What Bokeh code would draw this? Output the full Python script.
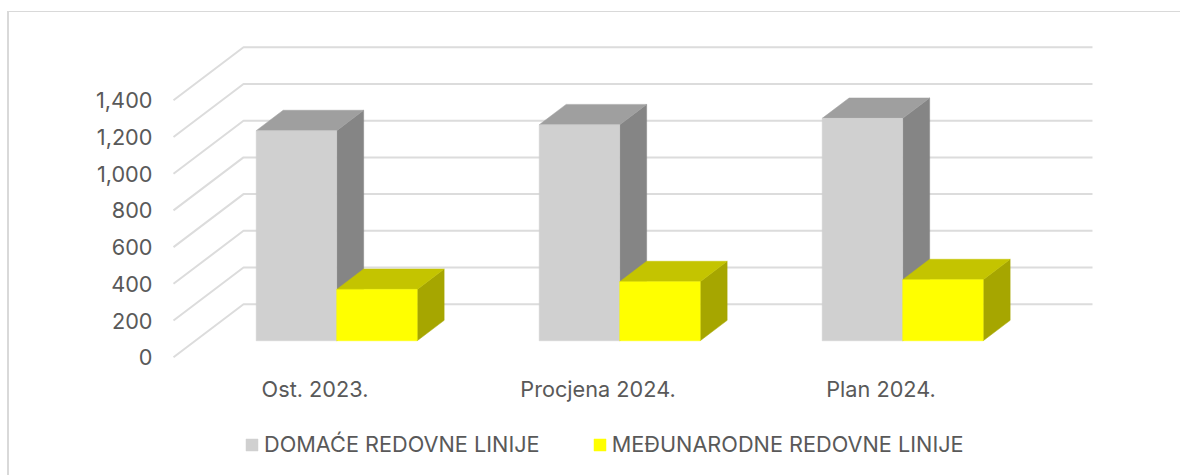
from bokeh.embed import file_html
from bokeh.resources import INLINE
from bokeh.plotting import figure
from bokeh.models import Range1d, FixedTicker, Legend, LegendItem, NumeralTickFormatter, LinearAxis

# data
categories = ["Ost. 2023.", "Procjena 2024.", "Plan 2024."]
domace = [1145, 1177, 1212]
medunarodne = [280, 322, 333]
y_ticks = [0, 200, 400, 600, 800, 1000, 1200, 1400]
series_names = ["DOMAĆE REDOVNE LINIJE", "MEĐUNARODNE REDOVNE LINIJE"]

# 3-D projection parameters (oblique), in data units
DX = 70 / 283       # category units for full depth
DY = 53 / 0.1835    # value units for full depth
BAR_W = 80.5 / 283
Z0, Z1 = 0.31, 0.695

TXT = "#595959"
FONT = "Inter"
FS = "21.7px"

ORG_X, ORG_Y = 9, 12   # page position of the figure's content
W, H = 1173, 464
PX_PER_CAT = 283.0
PX_PER_VAL = 0.1835
x_start = (ORG_X - 173) / PX_PER_CAT
x_end = x_start + W / PX_PER_CAT
y_end = (356.7 - ORG_Y) / PX_PER_VAL
y_start = y_end - H / PX_PER_VAL

p = figure(width=W, height=H, output_backend="svg", toolbar_location=None,
           x_range=Range1d(x_start, x_end), y_range=Range1d(y_start, y_end),
           min_border_left=0, min_border_right=0, min_border_top=0, min_border_bottom=0,
           x_axis_type=None, y_axis_type=None,
           styles={"border-top": "1px solid #d9d9d9", "border-left": "2px solid #d9d9d9",
                   "margin-left": "7px", "margin-top": "11px"})
p.outline_line_color = None
p.grid.visible = False
p.background_fill_color = "white"

yax = LinearAxis(ticker=FixedTicker(ticks=y_ticks), formatter=NumeralTickFormatter(format="0,0"),
                 fixed_location=0)
yax.axis_line_color = None
yax.major_tick_line_color = None
yax.minor_tick_line_color = None
yax.major_label_text_font = FONT
yax.major_label_text_font_size = "21.7px"
yax.major_label_text_color = TXT
yax.major_label_standoff = 15
p.add_layout(yax, "left")

xax = LinearAxis(ticker=FixedTicker(ticks=[i + 0.5 for i in range(len(categories))]),
                 major_label_overrides={i + 0.5: c for i, c in enumerate(categories)},
                 fixed_location=0)
xax.axis_line_color = None
xax.major_tick_line_color = None
xax.minor_tick_line_color = None
xax.major_label_text_font = FONT
xax.major_label_text_font_size = FS
xax.major_label_text_color = TXT
xax.major_label_standoff = 13
p.add_layout(xax, "below")

# walls' grid lines
n = len(categories)
gx = [[0, DX, n + DX] for _ in y_ticks]
gy = [[v, v + DY, v + DY] for v in y_ticks]
p.multi_line(gx, gy, line_color="#dcdcdc", line_width=2)


def box(center_left, value, front, top, side):
    x0, x1 = center_left, center_left + BAR_W
    px0, px1 = x0 + Z0 * DX, x1 + Z0 * DX
    qx0, qx1 = x0 + Z1 * DX, x1 + Z1 * DX
    by, ty = Z0 * DY, value + Z0 * DY
    by2, ty2 = Z1 * DY, value + Z1 * DY
    p.patch([px1, qx1, qx1, px1], [by, by2, ty2, ty], fill_color=side, line_color=side, line_width=0.5)
    p.patch([px0, px1, qx1, qx0], [ty, ty, ty2, ty2], fill_color=top, line_color=top, line_width=0.5)
    return p.patch([px0, px1, px1, px0], [by, by, ty, ty], fill_color=front, line_color=front, line_width=0.5)


r1 = r2 = None
for i in range(n):
    r1 = box(i + 0.5 - BAR_W, domace[i], "#d0d0d0", "#9f9f9f", "#858585")
    r2 = box(i + 0.5, medunarodne[i], "#ffff00", "#c4c400", "#a6a600")

legend = Legend(items=[LegendItem(label=series_names[0], renderers=[r1]),
                       LegendItem(label=series_names[1], renderers=[r2])],
                orientation="horizontal", location=(235, 19),
                glyph_width=15, glyph_height=15, label_standoff=5, spacing=52,
                padding=0, margin=0, border_line_color=None, background_fill_alpha=0,
                label_text_font=FONT, label_text_font_size=FS, label_text_color=TXT)
p.add_layout(legend, "center")

open("out.html", "w").write(file_html(p, INLINE))
